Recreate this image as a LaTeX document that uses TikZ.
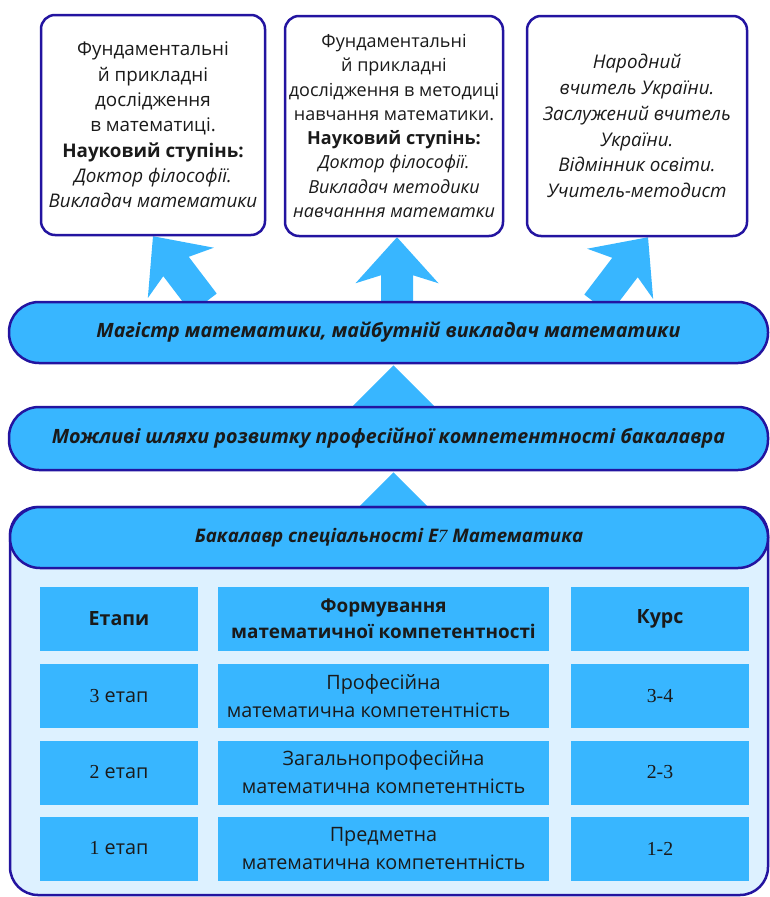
\documentclass[tikz,border=0pt]{standalone}
\usepackage{fontspec}
\setmainfont{Open Sans}
\newfontfamily\tnr{Liberation Serif}
\usetikzlibrary{calc}
\definecolor{bord}{HTML}{2314A0}
\definecolor{sky}{HTML}{38B6FF}
\definecolor{pale}{HTML}{DDF1FF}
\definecolor{ink}{HTML}{1A1A1A}
\pgfdeclarelayer{bg}\pgfsetlayers{bg,main}
% #1 start, #2 tip, #3 head length, #4 head half width, #5 notch length, #6 shaft half width
\newcommand{\fatarrow}[6]{%
  \fill[arrowc] ($(#1)!#6!90:(#2)$)
   -- ($($(#2)!#5!(#1)$)!#6!90:(#2)$)
   -- ($($(#2)!#3!(#1)$)!#4!90:(#2)$)
   -- (#2)
   -- ($($(#2)!#3!(#1)$)!#4!-90:(#2)$)
   -- ($($(#2)!#5!(#1)$)!#6!-90:(#2)$)
   -- ($(#1)!#6!-90:(#2)$) -- cycle;}
\begin{document}
\begin{tikzpicture}[x=1pt,y=-1pt,
  every node/.style={text=ink},
  topbox/.style={draw=bord,line width=2.5pt,fill=white,rounded corners=14pt,
    minimum height=220pt,align=center,inner sep=0pt},
  bar/.style={draw=bord,line width=2.5pt,fill=sky,rounded corners=30pt,
    minimum width=759pt,inner sep=0pt,font=\fontsize{19.7}{24}\selectfont\bfseries\itshape},
  cont/.style={draw=bord,line width=2.5pt,fill=pale,rounded corners=28pt,inner sep=0pt},
  cell/.style={fill=sky,minimum height=64pt,align=center,inner sep=0pt,
    font=\fontsize{19.8}{28}\selectfont},
  arrowc/.style={fill=sky}]
\useasboundingbox (0,0) rectangle (769,897);

% top boxes
\node[topbox,minimum width=224pt,font=\fontsize{18.8}{25.3}\selectfont] (box1) at (153,125)
 {Фундаментальні\\й прикладні\\дослідження\\в математиці.\\\textbf{Науковий ступінь:}\\\textit{Доктор філософії.}\\\textit{Викладач математики}};
\node[topbox,minimum width=218pt,font=\fontsize{18}{24.3}\selectfont] (box2) at (394,126)
 {Фундаментальні\\й прикладні\\дослідження в методиці\\навчання математики.\\\textbf{Науковий ступінь:}\\\textit{Доктор філософії.}\\\textit{Викладач методики}\\\textit{навчанння математки}};
\node[topbox,minimum width=220pt,font=\fontsize{18.8}{25.8}\selectfont\itshape] (box3) at (637,126)
 {Народний\\вчитель України.\\Заслужений вчитель\\України.\\Відмінник освіти.\\Учитель-методист};

% bars
\node[bar,minimum height=61pt] (bar1) at (388.5,332.5) {Магістр математики, майбутній викладач математики};
\node[bar,minimum height=63pt] (bar2) at (388.5,438.5) {Можливі шляхи розвитку професійної компетентності бакалавра};

% bottom container
\node[cont,minimum width=758pt,minimum height=388pt] (cont) at (389,701) {};
\node[bar,minimum width=758pt,minimum height=61pt,font=\fontsize{18.7}{22}\selectfont\bfseries\itshape] (hdr) at (389,537.5)
 {Бакалавр спеціальності Е{\tnr\mdseries 7} Математика};

% table
\node[cell,minimum width=158pt,font=\fontsize{19.6}{27}\selectfont\bfseries] (h1) at (119,619) {Етапи};
\node[cell,minimum width=331pt,font=\fontsize{18.9}{26}\selectfont\bfseries] (h2) at (383.5,619) {Формування\\математичної компетентності};
\node[cell,minimum width=178pt,font=\fontsize{19.6}{27}\selectfont\bfseries] (h3) at (660,619) {Курс};

\node[cell,minimum width=158pt] (r31) at (119,696) {{\tnr 3} етап};
\node[cell,minimum width=331pt] (r32) at (383.5,696) {Професійна\\\hspace*{-30pt}математична компетентність};
\node[cell,minimum width=178pt] (r33) at (660,696) {\tnr 3-4};

\node[cell,minimum width=158pt] (r21) at (119,772.5) {{\tnr 2} етап};
\node[cell,minimum width=331pt] (r22) at (383.5,772.5) {Загальнопрофесійна\\математична компетентність};
\node[cell,minimum width=178pt] (r23) at (660,772.5) {\tnr 2-3};

\node[cell,minimum width=158pt] (r11) at (119,848.5) {{\tnr 1} етап};
\node[cell,minimum width=331pt] (r12) at (383.5,848.5) {Предметна\\математична компетентність};
\node[cell,minimum width=178pt] (r13) at (660,848.5) {\tnr 1-2};

% arrows
\coordinate (a1t) at ($(box1.south)+(0,0)$);
\coordinate (a1s) at ($(a1t)+(51,67)$);
\coordinate (a2t) at ($(box2.south)+(3,0)$);
\coordinate (a2s) at ($(a2t)+(0,70)$);
\coordinate (a3t) at ($(box3.south)+(11,0)$);
\coordinate (a3s) at ($(a3t)+(-51,67)$);
\coordinate (a4t) at ($(bar1.south)+(5,1)$);
\coordinate (a4s) at ($(a4t)+(0,60)$);
\coordinate (a5t) at ($(bar2.south)+(5,1)$);
\coordinate (a5s) at ($(a5t)+(0,60)$);
\begin{pgfonlayer}{bg}
\fatarrow{a1s}{a1t}{46pt}{41.5pt}{38pt}{16pt}
\fatarrow{a2s}{a2t}{46pt}{41.5pt}{38pt}{16pt}
\fatarrow{a3s}{a3t}{46pt}{41.5pt}{38pt}{16pt}
\fatarrow{a4s}{a4t}{42pt}{42pt}{42pt}{16pt}
\fatarrow{a5s}{a5t}{35pt}{35pt}{35pt}{16pt}
\end{pgfonlayer}
\end{tikzpicture}
\end{document}
